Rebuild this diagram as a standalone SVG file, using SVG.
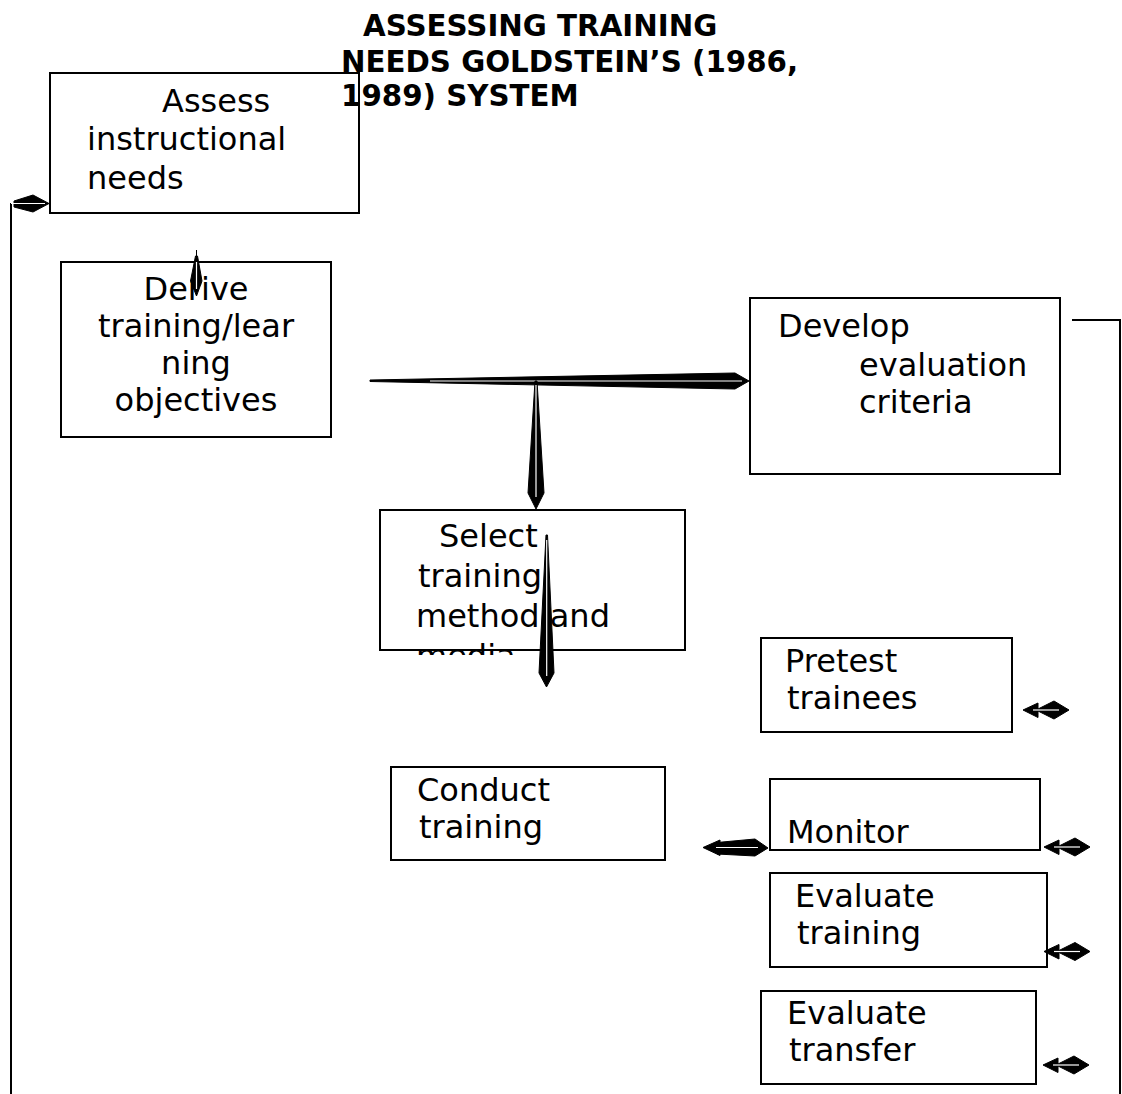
<svg xmlns="http://www.w3.org/2000/svg" width="1122" height="1094" viewBox="0 0 1122 1094">
<style>
.box{fill:#fff;stroke:#000;stroke-width:2}
.t{font-family:"DejaVu Sans",sans-serif;font-size:32px;fill:#000}
.title{font-family:"DejaVu Sans",sans-serif;font-size:29.3px;font-weight:bold;fill:#000}
.ln{fill:none;stroke:#000;stroke-width:2}
.ar{fill:#000;stroke:#000;stroke-width:1}
.core{stroke:#fff;stroke-width:1.2}
</style>
<defs>
<clipPath id="selClip"><rect x="380" y="509" width="306" height="146"/></clipPath>
<g id="small">
<polygon class="ar" points="0,0 15,-7 15,7.5"/>
<polygon class="ar" points="13,0 31,-9 46,0 31,9"/>
<line class="core" x1="10" y1="0" x2="36" y2="0"/>
</g>
</defs>
<rect width="1122" height="1094" fill="#fff"/>

<g id="title">
<text class="title" x="363" y="36">ASSESSING TRAINING</text>
<text class="title" x="341" y="71.5">NEEDS GOLDSTEIN’S (1986,</text>
<text class="title" x="341" y="106">1989) SYSTEM</text>
</g>

<g id="assess">
<rect class="box" x="50" y="73" width="309" height="140" fill-opacity="0"/>
<text class="t" x="162" y="112">Assess</text>
<text class="t" x="87" y="150">instructional</text>
<text class="t" x="87" y="189">needs</text>
</g>

<g id="derive">
<rect class="box" x="61" y="262" width="270" height="175"/>
<text class="t" x="196" y="300" text-anchor="middle">Derive</text>
<text class="t" x="196" y="337" text-anchor="middle">training/lear</text>
<text class="t" x="196" y="374" text-anchor="middle">ning</text>
<text class="t" x="196" y="411" text-anchor="middle">objectives</text>
</g>

<g id="develop">
<rect class="box" x="750" y="298" width="310" height="176"/>
<text class="t" x="778" y="337">Develop</text>
<text class="t" x="859" y="376">evaluation</text>
<text class="t" x="859" y="413">criteria</text>
</g>

<g id="select">
<rect class="box" x="380" y="510" width="305" height="140"/>
<g clip-path="url(#selClip)">
<text class="t" x="439" y="547">Select</text>
<text class="t" x="418" y="587">training</text>
<text class="t" x="416" y="627">method and</text>
<text class="t" x="416" y="667">media</text>
</g>
</g>

<g id="pretest">
<rect class="box" x="761" y="638" width="251" height="94"/>
<text class="t" x="785" y="672">Pretest</text>
<text class="t" x="787" y="709">trainees</text>
</g>

<g id="conduct">
<rect class="box" x="391" y="767" width="274" height="93"/>
<text class="t" x="417" y="801">Conduct</text>
<text class="t" x="419" y="838">training</text>
</g>

<g id="monitor">
<rect class="box" x="770" y="779" width="270" height="71"/>
<text class="t" x="787" y="843">Monitor</text>
</g>

<g id="evaltraining">
<rect class="box" x="770" y="873" width="277" height="94"/>
<text class="t" x="795" y="907">Evaluate</text>
<text class="t" x="797" y="944">training</text>
</g>

<g id="evaltransfer">
<rect class="box" x="761" y="991" width="275" height="93"/>
<text class="t" x="787" y="1024">Evaluate</text>
<text class="t" x="789" y="1061">transfer</text>
</g>

<g id="connectors">
<line class="ln" x1="11" y1="203" x2="11" y2="1094"/>
<polygon class="ar" points="14,201 33,195 49,203.5 33,212 14,207"/>
<line class="core" x1="11" y1="203.5" x2="45" y2="203.5"/>
<polyline class="ln" points="1072,320 1120,320 1120,1094"/>
<line stroke="#000" stroke-width="1" x1="196.5" y1="250" x2="196.5" y2="262"/>
<polygon class="ar" points="195.5,256 190.5,281 196.5,296 202,281 197.5,256"/>
<line class="core" x1="196.5" y1="262" x2="196.5" y2="289"/>
<polygon class="ar" points="370,380 735,373 749,381 735,389 370,381.5"/>
<line class="core" x1="430" y1="381" x2="742" y2="381"/>
<polygon class="ar" points="535,381 528,493 536,509 544,493 537,381"/>
<line class="core" x1="536" y1="385" x2="536" y2="497"/>
<polygon class="ar" points="546,535 539,673 546.5,687 554,673 547.5,535"/>
<line class="core" x1="546.7" y1="540" x2="546.7" y2="676"/>
<polygon class="ar" points="703,847.5 720,840 720,855.5"/>
<polygon class="ar" points="717,842.5 755,839 768,848 755,856 717,854"/>
<line class="core" x1="716" y1="847.5" x2="758" y2="847.5"/>
<use href="#small" x="1023" y="710"/>
<use href="#small" x="1044" y="847"/>
<use href="#small" x="1044" y="951.5"/>
<use href="#small" x="1043" y="1065"/>
</g>
</svg>
